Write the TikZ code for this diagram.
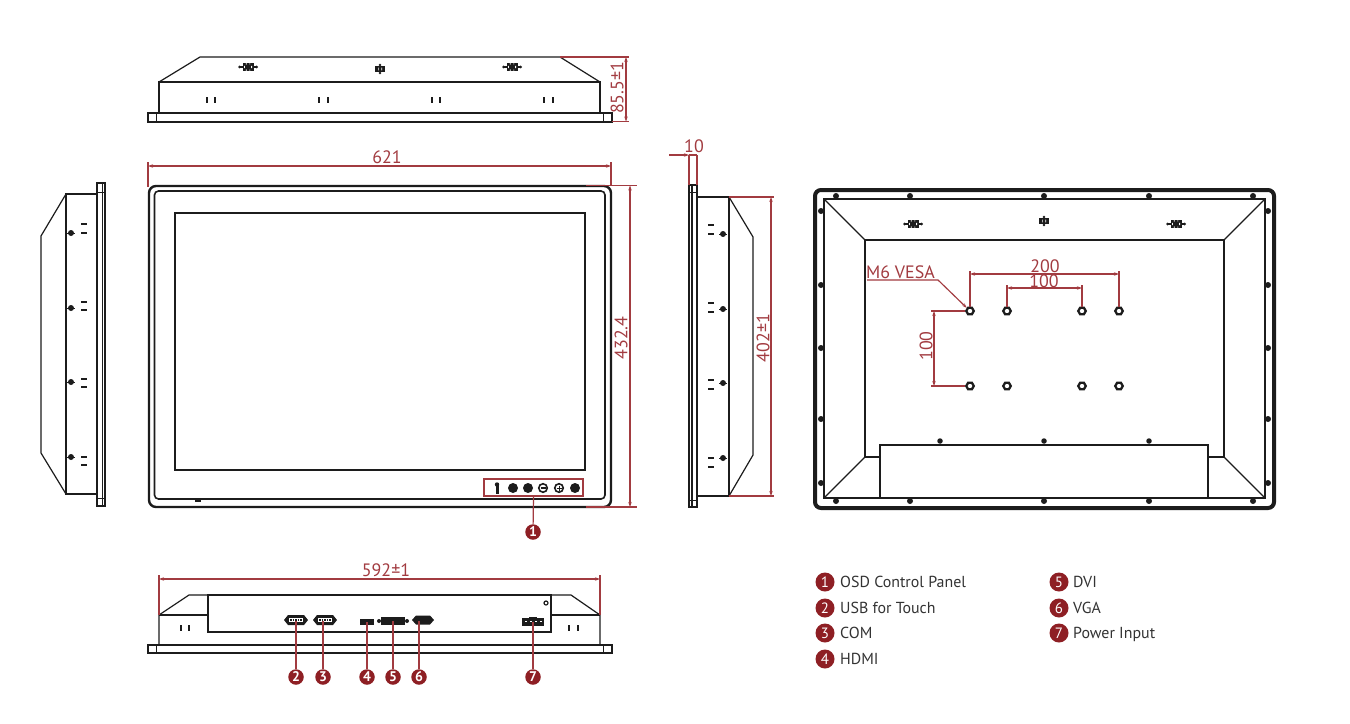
\documentclass[tikz,border=0pt]{standalone}
\usepackage{fontspec}
\setmainfont{PT Sans}
\usetikzlibrary{arrows.meta,shapes.geometric}
\definecolor{dimred}{HTML}{A23B40}
\definecolor{badge}{HTML}{8E1F24}
\definecolor{ink}{HTML}{1C1C1C}
\definecolor{legendtxt}{HTML}{333333}
\tikzset{
  x=1bp,y=-1bp,
  lineart/.style={draw=ink,line width=1.2bp},
  thin art/.style={draw=ink,line width=0.8bp},
  thick art/.style={draw=ink,line width=1.8bp},
  dimline/.style={draw=dimred,line width=1.15bp},
  dimarrow/.style={draw=dimred,line width=1.15bp,{Stealth[length=5bp,width=3.4bp]}-{Stealth[length=5bp,width=3.4bp]}},
  leader/.style={draw=dimred,line width=1.2bp},
  dimtext/.style={text=dimred,font=\fontsize{18}{20}\selectfont,inner sep=0pt},
  numdot/.style={circle,fill=badge,text=white,minimum size=15.5bp,inner sep=0pt,font=\fontsize{14}{14}\selectfont\bfseries},
  legdot/.style={circle,fill=badge,text=white,minimum size=19bp,inner sep=0pt,font=\fontsize{15}{15}\selectfont},
  legtext/.style={text=legendtxt,anchor=base west,inner sep=0pt,font=\fontsize{16}{18}\selectfont},
  hole/.style={circle,fill=ink,minimum size=6bp,inner sep=0pt},
  hexnut/.style={regular polygon,regular polygon sides=6,draw=ink,line width=2.3bp,fill=white,minimum size=7.5bp,inner sep=0pt},
  tick h/.style={fill=ink,minimum width=6.5bp,minimum height=2.8bp,inner sep=0pt},
  tick v/.style={fill=ink,minimum width=2.8bp,minimum height=6.5bp,inner sep=0pt},
  panelkey/.style={circle,fill=ink,minimum size=10bp,inner sep=0pt},
  ventwide/.pic={
    \fill[ink] (-8.5,0) circle (1.5) (8.5,0) circle (1.5);
    \draw[ink,line width=1.2bp] (-8.5,0)--(8.5,0);
    \fill[ink] (-5.5,-3.8) rectangle (5.5,3.8);
    \foreach \a in {-1.8,1.8}{\fill[white] (\a-.3,-3.8) rectangle (\a+.3,-2.4) (\a-.3,2.4) rectangle (\a+.3,3.8);}
    \fill[white] (-4,-1.2) rectangle (-3.2,1.2) (3.2,-1.2) rectangle (4,1.2);
  },
  ventsmall/.pic={
    \fill[ink] (-5,-2.8) rectangle (5,2.8);
    \fill[white] (-2,-1.4) rectangle (-1.4,1.4) (1.4,-1.4) rectangle (2,1.4);
    \fill[ink] (0,-4) circle (1.4) (0,4) circle (1.4);
  },
  dsub/.pic={
    \fill[ink] (-12,0)--(-8,-5)--(8,-5)--(12,0)--(8,5)--(-8,5)--cycle;
    \fill[white] (-7,-2.2) rectangle (7,2.2);
    \foreach \a in {-5,-2.5,0,2.5,5}{\fill[ink] (\a-.6,-1.2) rectangle (\a+.6,1.2);}
  }
}
\begin{document}
\begin{tikzpicture}
\useasboundingbox (0,0) rectangle (1350,723);
\fill[white] (0,0) rectangle (1350,723);

%% ---------- top view
\draw[lineart] (148,113) rectangle (612,122);
\draw[thin art] (156,113)--(156,122) (603,113)--(603,122);
\draw[thick art] (148,122)--(612,122);
\draw[thick art,line width=1.4bp] (148,113.5)--(612,113.5);
\draw[lineart] (159,113)--(159,82)--(600,82)--(600,113);
\draw[lineart] (159,82)--(200,57)--(560,57)--(600,82);
\foreach \a in {207,215,319,328,432,440,544,553}{\node[tick v] (t\a) at (\a,100) {};}
\pic at (248,67) {ventwide};
\pic at (380,69) {ventsmall};
\pic at (512,67) {ventwide};
% 85.5
\coordinate (h1) at (560,57); \coordinate (h1e) at (629,57);
\coordinate (h2) at (612,121.5); \coordinate (h2e) at (629,121.5);
\coordinate (ha) at (626,57); \coordinate (hb) at (626,121.5);
\draw[dimline] (h1)--(h1e) (h2)--(h2e);
\draw[dimarrow] (ha)--(hb);
\node[dimtext,rotate=90] (l855) at (617,88) {85.5±1};

%% ---------- front view
\draw[thick art,line width=2.4bp,rounded corners=7bp] (149,186) rectangle (611,507);
\draw[thick art,line width=1.6bp,rounded corners=4bp] (154.5,191) rectangle (605,499);
\draw[lineart] (175,213) rectangle (585,470);
\fill[ink] (195,500) rectangle (201,501.5);
% 621
\coordinate (w1) at (148,162); \coordinate (w1e) at (148,187);
\coordinate (w2) at (611,162); \coordinate (w2e) at (611,185);
\coordinate (wa) at (148,166); \coordinate (wb) at (611,166);
\draw[dimline] (w1)--(w1e) (w2)--(w2e);
\draw[dimarrow] (wa)--(wb);
\node[dimtext] (l621) at (387,157) {621};
% 432.4
\coordinate (v1) at (586,185.5); \coordinate (v1e) at (637,185.5);
\coordinate (v2) at (586,507); \coordinate (v2e) at (637,507);
\coordinate (va) at (630,185.5); \coordinate (vb) at (630,507);
\draw[dimline] (v1)--(v1e) (v2)--(v2e);
\draw[dimarrow] (va)--(vb);
\node[dimtext,rotate=90] (l432) at (621,338) {432.4};
% OSD panel
\node[draw=dimred,line width=1.2bp,minimum width=99bp,minimum height=17bp,inner sep=0pt] (osd) at (533.5,487.5) {};
\fill[ink] (495.5,483) rectangle (498.5,494);
\fill[ink] (497,484.5) circle (2.2);
\node[panelkey] (k2) at (513,488) {};
\node[panelkey] (k3) at (528,488) {};
\node[circle,draw=ink,line width=1.6bp,minimum size=8.5bp,inner sep=0pt] (k4) at (543,488) {};
\draw[ink,line width=1.2bp] (540.5,488)--(545.5,488);
\node[circle,draw=ink,line width=1.6bp,minimum size=8.5bp,inner sep=0pt] (k5) at (559,488) {};
\draw[ink,line width=1bp] (556.5,488)--(561.5,488) (559,485.5)--(559,490.5);
\node[panelkey] (k6) at (575,488) {};
\node[numdot] (n1) at (533,532) {1};
\draw[leader] (osd.south) -- (n1);

%% ---------- bottom view
\draw[lineart] (148,645) rectangle (612,653);
\draw[thin art] (156,645)--(156,653) (603,645)--(603,653);
\draw[thick art] (148,653)--(612,653);
\draw[lineart] (159,645)--(159,615)--(189,595)--(571,595)--(600,615)--(600,645);
\draw[lineart] (159,615)--(208,615) (551,615)--(600,615);
\draw[lineart] (208,595) rectangle (551,632);
\draw[thick art,line width=1.4bp] (208,595)--(551,595);
\foreach \a in {181,189,569,578}{\node[tick v] (b\a) at (\a,628) {};}
\node[circle,draw=ink,line width=1.2bp,minimum size=4bp,inner sep=0pt] (bscrew) at (546,603) {};
% ports
\node[inner sep=0pt,minimum width=22bp,minimum height=8bp] (p2) at (296,620) {};
\pic at (296,620) {dsub};
\node[inner sep=0pt,minimum width=22bp,minimum height=8bp] (p3) at (325,620) {};
\pic at (325,620) {dsub};
\node[fill=ink,inner sep=0pt,minimum width=14bp,minimum height=6bp] (p4) at (367,622) {};
\node[inner sep=0pt,minimum width=28bp,minimum height=8bp] (p5) at (393,621) {};
\fill[ink] (381,617) rectangle (405,625);
\fill[ink] (379,621) circle (2) (407,621) circle (2);
\node[inner sep=0pt,minimum width=22bp,minimum height=8bp] (p6) at (423,620) {};
\fill[ink] (412,620)--(416,615.5)--(430,615.5)--(434,620)--(430,624.5)--(416,624.5)--cycle;
\node[fill=ink,inner sep=0pt,minimum width=22bp,minimum height=8bp] (p7) at (533,622) {};
\foreach \a in {526,531,536,541}{\fill[white] (\a-.8,620.5) rectangle (\a+.8,622);}
\fill[ink] (529,616.5) rectangle (537,618);
% badges
\node[numdot] (n2) at (296,677) {2};
\node[numdot] (n3) at (323,677) {3};
\node[numdot] (n4) at (367,677) {4};
\node[numdot] (n5) at (393,677) {5};
\node[numdot] (n6) at (419,677) {6};
\node[numdot] (n7) at (533,677) {7};
\coordinate (c2) at (296,621); \coordinate (c3) at (323,621); \coordinate (c4) at (367,622);
\coordinate (c5) at (393,621); \coordinate (c6) at (419,621); \coordinate (c7) at (533,622);
\draw[leader] (c2)--(n2); \draw[leader] (c3)--(n3); \draw[leader] (c4)--(n4);
\draw[leader] (c5)--(n5); \draw[leader] (c6)--(n6); \draw[leader] (c7)--(n7);
% 592
\coordinate (x1) at (159,575); \coordinate (x1e) at (159,615);
\coordinate (x2) at (600,575); \coordinate (x2e) at (600,615);
\coordinate (xa) at (159,579); \coordinate (xb) at (600,579);
\draw[dimline] (x1)--(x1e) (x2)--(x2e);
\draw[dimarrow] (xa)--(xb);
\node[dimtext] (l592) at (386,570) {592±1};

%% ---------- left view
\draw[lineart] (97,183) rectangle (105,506);
\draw[thick art] (102.5,183)--(102.5,506);
\draw[thin art] (97,192)--(105,192) (97,498)--(105,498);
\draw[lineart] (97,194)--(66,194)--(66,494)--(97,494);
\draw[lineart] (66,194)--(41,236)--(41,453)--(66,494);
\foreach \a in {233,308,382,457}{\node[hole] at (71,\a) {};\draw[ink,line width=1bp] (67,\a)--(75,\a);}
\foreach \a in {224,233,302,310,379,387,457,465}{\node[tick h] at (84,\a) {};}

%% ---------- right view
\draw[lineart] (689,185) rectangle (697,507);
\draw[thick art] (692,185)--(692,507);
\draw[thin art] (689,192)--(697,192) (689,500)--(697,500);
\draw[lineart] (697,197)--(729,197)--(729,496)--(697,496);
\draw[lineart] (729,197)--(753,237)--(753,455)--(729,496);
\foreach \a in {234,309,383,458}{\node[hole] at (723,\a) {};\draw[ink,line width=1bp] (719,\a)--(727,\a);}
\foreach \a in {225,234,303,312,380,389,458,467}{\node[tick h] at (711,\a) {};}
% 402
\coordinate (r1) at (729,197); \coordinate (r1e) at (774,197);
\coordinate (r2) at (729,496); \coordinate (r2e) at (774,496);
\coordinate (ra) at (771,197); \coordinate (rb) at (771,496);
\draw[dimline] (r1)--(r1e) (r2)--(r2e);
\draw[dimarrow] (ra)--(rb);
\node[dimtext,rotate=90] (l402) at (763,338) {402±1};
% 10
\coordinate (s1) at (689,155); \coordinate (s1e) at (689,185);
\coordinate (s2) at (697,155); \coordinate (s2e) at (697,185);
\coordinate (s0) at (669,155);
\draw[dimline] (s1)--(s1e) (s2)--(s2e) (s1)--(s2);
\draw[dimline,-{Stealth[length=5bp,width=3.4bp]}] (s0)--(s1);
\node[dimtext] (l10) at (694,146) {10};

%% ---------- back view
\draw[ink,line width=4bp,rounded corners=6bp] (815,190) rectangle (1274,508);
\draw[lineart] (824,199) rectangle (1265,498);
\draw[lineart] (865,457)--(865,240)--(1224,240)--(1224,457);
\draw[lineart] (865,457)--(880,457) (1208,457)--(1224,457);
\draw[lineart] (824,199)--(865,240) (1265,199)--(1224,240) (824,498)--(865,457) (1265,498)--(1224,457);
\draw[lineart] (880,498)--(880,445)--(1208,445)--(1208,498);
\foreach \a in {836,910,1044,1149,1253}{\node[hole] at (\a,196) {}; \node[hole] at (\a,501) {};}
\foreach \a in {211,285,348,419,483}{\node[hole] at (821,\a) {}; \node[hole] at (1268,\a) {};}
\foreach \a in {940,1044,1149}{\node[hole,minimum size=5.5bp] at (\a,441) {};}
\pic at (913,224) {ventwide};
\pic at (1044,221) {ventsmall};
\pic at (1176,224) {ventwide};
\foreach \a/\n in {970/a,1007/b,1082/c,1119/d}{
  \node[hexnut] (u\n) at (\a,311) {};
  \node[hexnut] (w\n) at (\a,386) {};
}
% dims back
\coordinate (e200a) at (970,271); \coordinate (e200b) at (1119,271);
\coordinate (e100a) at (1007,285); \coordinate (e100b) at (1082,285);
\draw[dimline] (e200a)--(ua) (e200b)--(ud) (e100a)--(ub) (e100b)--(uc);
\coordinate (d200a) at (970,274); \coordinate (d200b) at (1119,274);
\coordinate (d100a) at (1007,288); \coordinate (d100b) at (1082,288);
\draw[dimarrow] (d200a)--(d200b);
\draw[dimarrow] (d100a)--(d100b);
\node[dimtext] (l200) at (1045,266) {200};
\node[dimtext] (l100) at (1044,281.5) {100};
\coordinate (e1) at (931,311); \coordinate (e2) at (931,386);
\draw[dimline] (e1)--(ua) (e2)--(wa);
\coordinate (d1) at (934,311); \coordinate (d2) at (934,386);
\draw[dimarrow] (d1)--(d2);
\node[dimtext,rotate=90] (lv100) at (926,346) {100};
\node[dimtext,anchor=west] (lvesa) at (866,272) {M6 VESA};
\coordinate (v0) at (867,280); \coordinate (v3) at (938,280);
\draw[dimline,-{Stealth[length=5bp,width=3.4bp]}] (v0)--(v3)--(ua);

%% ---------- legend
\foreach \n/\y/\t in {1/582/OSD Control Panel,2/608/USB for Touch,3/633/COM,4/659/HDMI}{
  \node[legdot] (ld\n) at (825,\y) {\n};
  \node[legtext] (lt\n) at (840,\y+5.5) {\t};
}
\foreach \n/\y/\t in {5/582/DVI,6/608/VGA,7/633/Power Input}{
  \node[legdot] (ld\n) at (1059,\y) {\n};
  \node[legtext] (lt\n) at (1073,\y+5.5) {\t};
}
\end{tikzpicture}
\end{document}
